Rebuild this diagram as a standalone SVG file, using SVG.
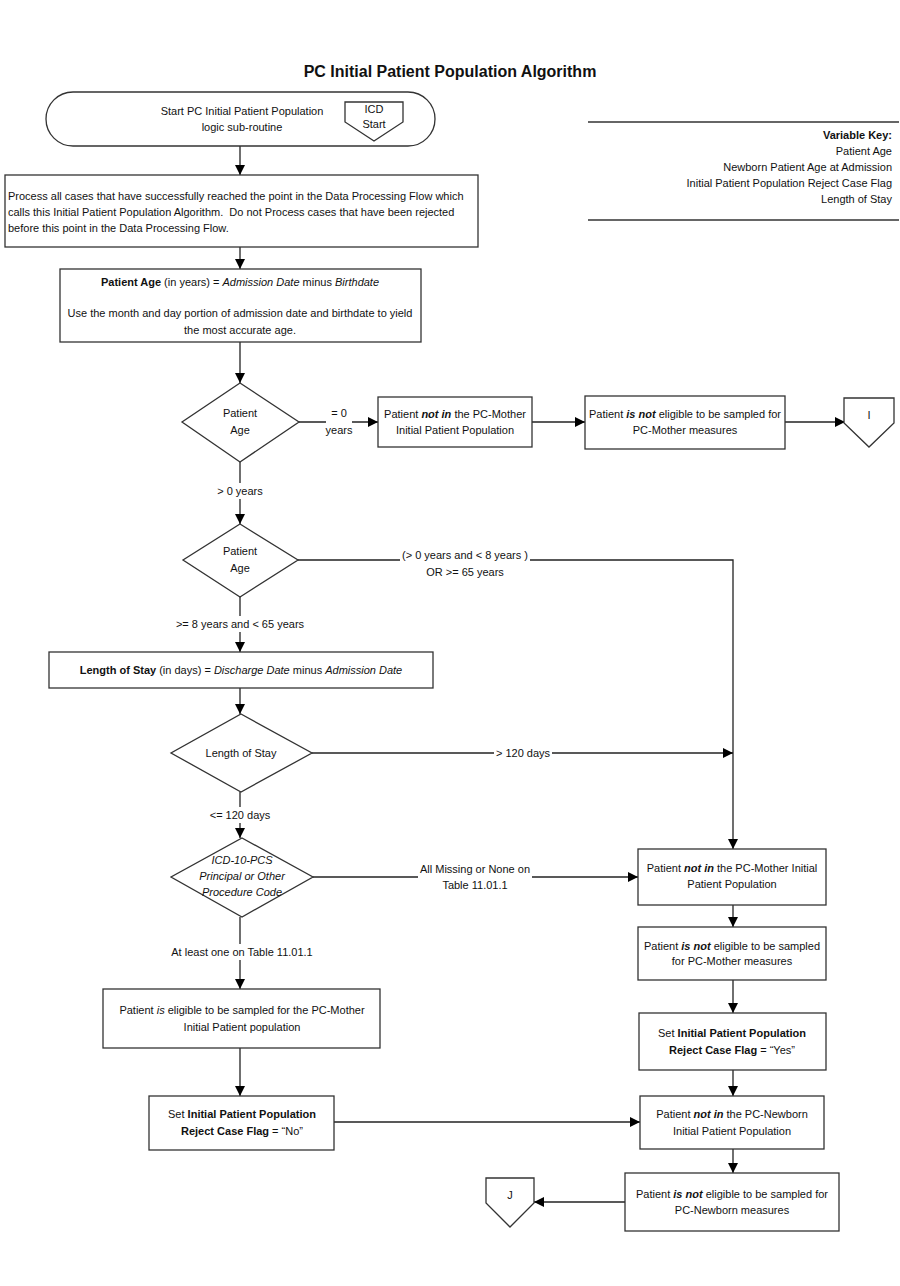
<svg xmlns="http://www.w3.org/2000/svg" width="900" height="1286" viewBox="0 0 900 1286">
<style>
text{font-family:"Liberation Sans",Arial,sans-serif;font-size:11px;fill:#111;}
.t{font-size:16px;font-weight:bold;}
.c{text-anchor:middle;}
.r{text-anchor:end;}
.b{font-weight:bold;}
.i{font-style:italic;}
.shape{fill:#fff;stroke:#333;stroke-width:1.3;}
.ln{fill:none;stroke:#222;stroke-width:1.3;}
.bg{fill:#fff;stroke:none;}
</style>
<defs>
<marker id="ah" viewBox="0 0 10 10" refX="10" refY="5" markerWidth="10" markerHeight="10" markerUnits="userSpaceOnUse" orient="auto">
<path d="M0,0 L10,5 L0,10 z" fill="#000"/>
</marker>
</defs>
<rect width="900" height="1286" fill="#fff"/>
<text class="t c" x="450" y="77">PC Initial Patient Population Algorithm</text>

<g id="connectors">
<line class="ln" x1="240" y1="146" x2="240" y2="175" marker-end="url(#ah)"/>
<line class="ln" x1="240" y1="247" x2="240" y2="269" marker-end="url(#ah)"/>
<line class="ln" x1="240" y1="342" x2="240" y2="383" marker-end="url(#ah)"/>
<line class="ln" x1="299" y1="422" x2="378" y2="422" marker-end="url(#ah)"/>
<line class="ln" x1="532" y1="422" x2="585" y2="422" marker-end="url(#ah)"/>
<line class="ln" x1="785" y1="422" x2="845" y2="422" marker-end="url(#ah)"/>
<line class="ln" x1="240" y1="462" x2="240" y2="524" marker-end="url(#ah)"/>
<polyline class="ln" points="298,560 733,560 733,849" marker-end="url(#ah)"/>
<line class="ln" x1="240" y1="597" x2="240" y2="652" marker-end="url(#ah)"/>
<line class="ln" x1="240" y1="688" x2="240" y2="714" marker-end="url(#ah)"/>
<line class="ln" x1="312" y1="753" x2="733" y2="753" marker-end="url(#ah)"/>
<line class="ln" x1="240" y1="792" x2="240" y2="838" marker-end="url(#ah)"/>
<line class="ln" x1="313" y1="877" x2="638" y2="877" marker-end="url(#ah)"/>
<line class="ln" x1="240" y1="917" x2="240" y2="989" marker-end="url(#ah)"/>
<line class="ln" x1="240" y1="1048" x2="240" y2="1096" marker-end="url(#ah)"/>
<line class="ln" x1="334" y1="1122" x2="640" y2="1122" marker-end="url(#ah)"/>
<line class="ln" x1="733" y1="905" x2="733" y2="927" marker-end="url(#ah)"/>
<line class="ln" x1="733" y1="980" x2="733" y2="1013" marker-end="url(#ah)"/>
<line class="ln" x1="733" y1="1070" x2="733" y2="1096" marker-end="url(#ah)"/>
<line class="ln" x1="733" y1="1149" x2="733" y2="1173" marker-end="url(#ah)"/>
<line class="ln" x1="625" y1="1202" x2="534" y2="1202" marker-end="url(#ah)"/>
<rect class="bg" x="326" y="405" width="26" height="33"/>
<rect class="bg" x="214" y="483" width="52" height="16"/>
<rect class="bg" x="400" y="547" width="130" height="32"/>
<rect class="bg" x="172" y="616" width="136" height="16"/>
<rect class="bg" x="494" y="746" width="58" height="15"/>
<rect class="bg" x="207" y="807" width="66" height="16"/>
<rect class="bg" x="418" y="861" width="114" height="32"/>
<rect class="bg" x="170" y="944" width="144" height="16"/>
<text class="c" x="339" y="417">= 0</text>
<text class="c" x="339" y="434">years</text>
<text class="c" x="240" y="495">&gt; 0 years</text>
<text class="c" x="465" y="559">(&gt; 0 years and &lt; 8 years )</text>
<text class="c" x="465" y="576">OR &gt;= 65 years</text>
<text class="c" x="240" y="628">&gt;= 8 years and &lt; 65 years</text>
<text class="c" x="523" y="757">&gt; 120 days</text>
<text class="c" x="240" y="819">&lt;= 120 days</text>
<text class="c" x="475" y="873">All Missing or None on</text>
<text class="c" x="475" y="889">Table 11.01.1</text>
<text class="c" x="242" y="956">At least one on Table 11.01.1</text>
</g>

<g id="start">
<rect class="shape" x="46" y="92" width="389" height="54" rx="27" ry="27"/>
<text class="c" x="242" y="115">Start PC Initial Patient Population</text>
<text class="c" x="242" y="131">logic sub-routine</text>
</g>
<g id="icd-start">
<polygon class="shape" points="345,102 403,102 403,122 374,141 345,122"/>
<text class="c" x="374" y="113">ICD</text>
<text class="c" x="374" y="128">Start</text>
</g>

<g id="variable-key">
<line x1="588" y1="122" x2="899" y2="122" stroke="#333" stroke-width="1.3"/>
<line x1="588" y1="220" x2="899" y2="220" stroke="#333" stroke-width="1.3"/>
<text class="r b" x="892" y="139">Variable Key:</text>
<text class="r" x="892" y="155">Patient Age</text>
<text class="r" x="892" y="171">Newborn Patient Age at Admission</text>
<text class="r" x="892" y="187">Initial Patient Population Reject Case Flag</text>
<text class="r" x="892" y="203">Length of Stay</text>
</g>

<g id="process-all">
<rect class="shape" x="5" y="175" width="473" height="72"/>
<text x="8" y="200">Process all cases that have successfully reached the point in the Data Processing Flow which</text>
<text x="8" y="216" xml:space="preserve">calls this Initial Patient Population Algorithm.  Do not Process cases that have been rejected</text>
<text x="8" y="232">before this point in the Data Processing Flow.</text>
</g>

<g id="patient-age-calc">
<rect class="shape" x="60" y="269" width="361" height="73"/>
<text class="c" x="240" y="286"><tspan class="b">Patient Age</tspan> (in years) = <tspan class="i">Admission Date</tspan> minus <tspan class="i">Birthdate</tspan></text>
<text class="c" x="240" y="317">Use the month and day portion of admission date and birthdate to yield</text>
<text class="c" x="240" y="334">the most accurate age.</text>
</g>

<g id="decision-age-1">
<polygon class="shape" points="240,383 299,422 240,462 182,422"/>
<text class="c" x="240" y="417">Patient</text>
<text class="c" x="240" y="434">Age</text>
</g>

<g id="not-in-mother-1">
<rect class="shape" x="378" y="397" width="154" height="50"/>
<text class="c" x="455" y="418">Patient <tspan class="b i">not in</tspan> the PC-Mother</text>
<text class="c" x="455" y="434">Initial Patient Population</text>
</g>

<g id="not-eligible-mother-1">
<rect class="shape" x="585" y="396" width="200" height="53"/>
<text class="c" x="685" y="418">Patient <tspan class="b i">is not</tspan> eligible to be sampled for</text>
<text class="c" x="685" y="434">PC-Mother measures</text>
</g>

<g id="offpage-i">
<polygon class="shape" points="844,398 894,398 894,423 869,447 844,423"/>
<text class="c" x="869" y="419">I</text>
</g>

<g id="decision-age-2">
<polygon class="shape" points="240,524 298,560 240,597 183,560"/>
<text class="c" x="240" y="555">Patient</text>
<text class="c" x="240" y="572">Age</text>
</g>

<g id="los-calc">
<rect class="shape" x="49" y="652" width="384" height="36"/>
<text class="c" x="241" y="674"><tspan class="b">Length of Stay</tspan> (in days) = <tspan class="i">Discharge Date</tspan> minus <tspan class="i">Admission Date</tspan></text>
</g>

<g id="decision-los">
<polygon class="shape" points="241,714 312,753 241,792 171,753"/>
<text class="c" x="241" y="757">Length of Stay</text>
</g>

<g id="decision-icd">
<polygon class="shape" points="242,838 313,877 242,917 171,877"/>
<text class="c i" x="242" y="864">ICD-10-PCS</text>
<text class="c i" x="242" y="880">Principal or Other</text>
<text class="c i" x="242" y="896">Procedure Code</text>
</g>

<g id="eligible-mother">
<rect class="shape" x="103" y="989" width="277" height="59"/>
<text class="c" x="242" y="1014">Patient <tspan class="i">is</tspan> eligible to be sampled for the PC-Mother</text>
<text class="c" x="242" y="1031">Initial Patient population</text>
</g>

<g id="flag-no">
<rect class="shape" x="149" y="1096" width="185" height="54"/>
<text class="c" x="242" y="1118">Set <tspan class="b">Initial Patient Population</tspan></text>
<text class="c" x="242" y="1135"><tspan class="b">Reject Case Flag</tspan> = “No”</text>
</g>

<g id="not-in-mother-2">
<rect class="shape" x="638" y="849" width="188" height="56"/>
<text class="c" x="732" y="872">Patient <tspan class="b i">not in</tspan> the PC-Mother Initial</text>
<text class="c" x="732" y="888">Patient Population</text>
</g>

<g id="not-eligible-mother-2">
<rect class="shape" x="638" y="927" width="188" height="53"/>
<text class="c" x="732" y="950">Patient <tspan class="b i">is not</tspan> eligible to be sampled</text>
<text class="c" x="732" y="965">for PC-Mother measures</text>
</g>

<g id="flag-yes">
<rect class="shape" x="639" y="1013" width="187" height="57"/>
<text class="c" x="732" y="1037">Set <tspan class="b">Initial Patient Population</tspan></text>
<text class="c" x="732" y="1054"><tspan class="b">Reject Case Flag</tspan> = “Yes”</text>
</g>

<g id="not-in-newborn">
<rect class="shape" x="640" y="1096" width="184" height="53"/>
<text class="c" x="732" y="1118">Patient <tspan class="b i">not in</tspan> the PC-Newborn</text>
<text class="c" x="732" y="1135">Initial Patient Population</text>
</g>

<g id="not-eligible-newborn">
<rect class="shape" x="625" y="1173" width="214" height="58"/>
<text class="c" x="732" y="1198">Patient <tspan class="b i">is not</tspan> eligible to be sampled for</text>
<text class="c" x="732" y="1214">PC-Newborn measures</text>
</g>

<g id="offpage-j">
<polygon class="shape" points="486,1178 534,1178 534,1203 510,1227 486,1203"/>
<text class="c" x="510" y="1199">J</text>
</g>
</svg>
